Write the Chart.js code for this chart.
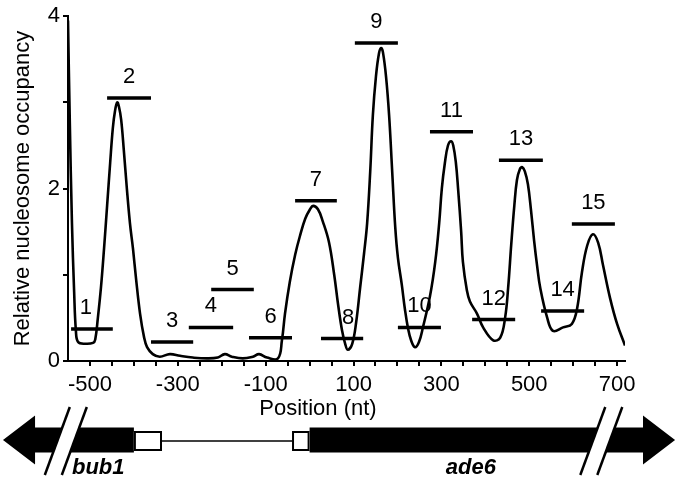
<!DOCTYPE html>
<html>
<head>
<meta charset="utf-8">
<script src="https://cdn.jsdelivr.net/npm/chart.js@4.4.1/dist/chart.umd.min.js"></script>
<style>
  html, body { margin: 0; padding: 0; background: #fff; }
  #wrap { width: 677px; height: 478px; }
</style>
</head>
<body>
<div id="wrap"><canvas id="c" width="677" height="478"></canvas></div>
<script>
// ---- Data ----
const positionNt = [-550, -546, -541, -536, -532, -527, -511, -493, -488, -482, -475, -468, -461, -454, -448, -443, -438, -434, -429, -423, -416, -409, -402, -395, -386, -377, -370, -357, -341, -318, -295, -266, -234, -209, -193, -177, -152, -129, -115, -97, -72, -63, -56, -45, -33, -22, -10, 1, 8, 19, 30, 44, 56, 65, 74, 81, 87, 97, 106, 115, 124, 131, 138, 144, 151, 158, 163, 167, 174, 181, 188, 195, 201, 210, 217, 224, 231, 240, 249, 258, 274, 286, 295, 301, 308, 315, 322, 327, 333, 338, 345, 349, 358, 365, 381, 395, 418, 434, 445, 452, 459, 466, 472, 479, 484, 490, 497, 504, 511, 518, 525, 541, 554, 577, 597, 609, 620, 632, 645, 657, 668, 684, 700, 718];
const occupancy = [3.95, 2.8, 1.6, 0.8, 0.35, 0.22, 0.2, 0.21, 0.25, 0.5, 0.85, 1.3, 1.8, 2.3, 2.7, 2.9, 3.0, 2.95, 2.8, 2.45, 2.0, 1.6, 1.3, 0.95, 0.55, 0.28, 0.16, 0.08, 0.05, 0.08, 0.06, 0.04, 0.03, 0.04, 0.08, 0.05, 0.03, 0.05, 0.08, 0.04, 0.03, 0.24, 0.55, 0.92, 1.23, 1.45, 1.65, 1.76, 1.8, 1.76, 1.62, 1.38, 1.0, 0.65, 0.35, 0.2, 0.13, 0.2, 0.45, 0.85, 1.25, 1.6, 2.2, 2.85, 3.3, 3.57, 3.63, 3.58, 3.3, 2.85, 2.2, 1.55, 1.2, 0.88, 0.6, 0.38, 0.24, 0.16, 0.22, 0.39, 0.75, 1.15, 1.6, 2.0, 2.3, 2.5, 2.55, 2.5, 2.3, 2.0, 1.5, 1.15, 0.82, 0.69, 0.55, 0.39, 0.24, 0.27, 0.5, 0.85, 1.35, 1.8, 2.1, 2.23, 2.25, 2.2, 2.05, 1.75, 1.4, 1.1, 0.85, 0.5, 0.35, 0.39, 0.43, 0.61, 1.03, 1.34, 1.47, 1.37, 1.11, 0.73, 0.43, 0.18];

const nucleosomeIds   = ['1','2','3','4','5','6','7','8','9','10','11','12','13','14','15'];
const nucleosomeStart = [-543, -461, -361, -275, -224, -138, -33, 26, 103, 201, 274, 370, 431, 527, 597];
const nucleosomeEnd   = [-448, -361, -265, -174, -127, -40, 62, 122, 201, 299, 372, 468, 531, 625, 695];
const nucleosomeLevel = [0.37, 3.05, 0.22, 0.39, 0.83, 0.27, 1.86, 0.26, 3.69, 0.39, 2.66, 0.48, 2.33, 0.58, 1.59];

const xTickLabels = [-500, -300, -100, 100, 300, 500, 700];
const yTickLabels = [0, 2, 4];

// gene schematic landmarks (nt)
const bub1Landmarks = { tip: -698, headBase: -625, orfEnd: -400, utrEnd: -336 };
const ade6Landmarks = { utrStart: -40, orfStart: 0, headBase: 759, tip: 832 };
const breakCentres = [-555, 664];

// ---- Build datasets ----
const curveData = positionNt.map((v, i) => ({ x: v, y: occupancy[i] }));
const nucData = [];
nucleosomeIds.forEach((id, i) => {
  nucData.push({ x: nucleosomeStart[i], y: nucleosomeLevel[i] });
  nucData.push({ x: nucleosomeEnd[i], y: nucleosomeLevel[i] });
  nucData.push({ x: nucleosomeEnd[i], y: null });
});

const FONT = "'Liberation Sans', Arial, Helvetica, sans-serif";
Chart.defaults.font.family = FONT;
Chart.defaults.color = '#000';

// small horizontal nudges of a few number labels (pixels), as in the figure
const labelNudge = { '1': -6, '8': 6 };

const overlay = {
  id: 'overlay',
  afterDatasetsDraw(chart) {
    const { ctx, scales: { x, y } } = chart;
    ctx.save();
    ctx.font = '22px ' + FONT;
    ctx.fillStyle = '#000';
    ctx.textAlign = 'center';
    ctx.textBaseline = 'middle';
    nucleosomeIds.forEach((id, i) => {
      const cx = x.getPixelForValue((nucleosomeStart[i] + nucleosomeEnd[i]) / 2) + (labelNudge[id] || 0);
      const cy = y.getPixelForValue(nucleosomeLevel[i]) - 21;
      ctx.fillText(id, cx, cy);
    });
    ctx.restore();
  },
  afterDraw(chart) {
    const { ctx, scales: { x } } = chart;
    const px = v => x.getPixelForValue(v);
    ctx.save();
    // x axis title
    ctx.font = '22px ' + FONT;
    ctx.fillStyle = '#000';
    ctx.textAlign = 'center';
    ctx.textBaseline = 'middle';
    ctx.fillText('Position (nt)', px(19), 409);

    const cy = 440, bh = 12.5, hh = 24.5;
    ctx.fillStyle = '#000';
    // bub1 arrow (leftward)
    ctx.beginPath();
    ctx.moveTo(px(bub1Landmarks.tip), cy);
    ctx.lineTo(px(bub1Landmarks.headBase), cy - hh);
    ctx.lineTo(px(bub1Landmarks.headBase), cy - bh);
    ctx.lineTo(px(bub1Landmarks.orfEnd), cy - bh);
    ctx.lineTo(px(bub1Landmarks.orfEnd), cy + bh);
    ctx.lineTo(px(bub1Landmarks.headBase), cy + bh);
    ctx.lineTo(px(bub1Landmarks.headBase), cy + hh);
    ctx.closePath();
    ctx.fill();
    // ade6 arrow (rightward)
    ctx.beginPath();
    ctx.moveTo(px(ade6Landmarks.tip), cy);
    ctx.lineTo(px(ade6Landmarks.headBase), cy - hh);
    ctx.lineTo(px(ade6Landmarks.headBase), cy - bh);
    ctx.lineTo(px(ade6Landmarks.orfStart), cy - bh);
    ctx.lineTo(px(ade6Landmarks.orfStart), cy + bh);
    ctx.lineTo(px(ade6Landmarks.headBase), cy + bh);
    ctx.lineTo(px(ade6Landmarks.headBase), cy + hh);
    ctx.closePath();
    ctx.fill();
    // intergenic line
    ctx.strokeStyle = '#000';
    ctx.lineWidth = 1.5;
    ctx.beginPath();
    ctx.moveTo(px(bub1Landmarks.utrEnd), cy + 1);
    ctx.lineTo(px(ade6Landmarks.utrStart), cy + 1);
    ctx.stroke();
    // UTR boxes
    ctx.lineWidth = 2;
    ctx.fillStyle = '#fff';
    [[bub1Landmarks.orfEnd, bub1Landmarks.utrEnd], [ade6Landmarks.utrStart, ade6Landmarks.orfStart]].forEach(([a, b]) => {
      const x0 = px(a), x1 = px(b);
      ctx.fillRect(x0, cy - 8, x1 - x0, 18);
      ctx.strokeRect(x0 + 1, cy - 8, x1 - x0 - 2, 18);
    });
    // break marks
    breakCentres.forEach(b => {
      const c = px(b);
      const top = 407, bot = 475, slant = 12.5, gap = 8.5;
      ctx.fillStyle = '#fff';
      ctx.beginPath();
      ctx.moveTo(c + slant - gap, top);
      ctx.lineTo(c + slant + gap, top);
      ctx.lineTo(c - slant + gap, bot);
      ctx.lineTo(c - slant - gap, bot);
      ctx.closePath();
      ctx.fill();
      ctx.strokeStyle = '#000';
      ctx.lineWidth = 2.5;
      [-gap, gap].forEach(g => {
        ctx.beginPath();
        ctx.moveTo(c + slant + g, top);
        ctx.lineTo(c - slant + g, bot);
        ctx.stroke();
      });
    });
    // gene names
    ctx.fillStyle = '#000';
    ctx.font = 'italic bold 22px ' + FONT;
    ctx.textBaseline = 'alphabetic';
    ctx.textAlign = 'left';
    ctx.fillText('bub1', px(-541), 474);
    ctx.textAlign = 'center';
    ctx.fillText('ade6', px(367), 474);
    ctx.restore();
  }
};

new Chart(document.getElementById('c'), {
  type: 'line',
  data: {
    datasets: [
      {
        data: curveData,
        borderColor: '#000',
        borderWidth: 2.6,
        pointRadius: 0,
        tension: 0.4,
        fill: false
      },
      {
        data: nucData,
        borderColor: '#000',
        borderWidth: 3.5,
        pointRadius: 0,
        spanGaps: false,
        borderCapStyle: 'butt',
        tension: 0
      }
    ]
  },
  options: {
    responsive: false,
    animation: false,
    devicePixelRatio: 1,
    layout: { padding: { left: 0, right: 52, top: 9, bottom: 0 } },
    plugins: { legend: { display: false }, tooltip: { enabled: false } },
    scales: {
      x: {
        type: 'linear',
        min: -550,
        max: 718,
        afterBuildTicks(scale) {
          const t = [];
          for (let v = -500; v <= 700; v += 50) t.push({ value: v });
          scale.ticks = t;
        },
        afterFit(scale) { scale.height = 117; },
        ticks: {
          autoSkip: false,
          maxRotation: 0,
          padding: 6,
          font: { size: 22 },
          color: '#000',
          callback: v => xTickLabels.includes(v) ? String(v) : ''
        },
        grid: { display: true, drawOnChartArea: false, drawTicks: true, tickLength: 5, color: '#000', lineWidth: 2 },
        border: { display: true, color: '#000', width: 2 }
      },
      y: {
        type: 'linear',
        min: 0,
        max: 4,
        afterBuildTicks(scale) {
          scale.ticks = [0, 1, 2, 3, 4].map(v => ({ value: v }));
        },
        afterFit(scale) { scale.width = 68; },
        ticks: {
          autoSkip: false,
          padding: 3,
          font: { size: 22 },
          color: '#000',
          callback: v => yTickLabels.includes(v) ? String(v) : ''
        },
        title: {
          display: true,
          text: 'Relative nucleosome occupancy',
          font: { size: 22 },
          color: '#000',
          padding: { top: 10, bottom: 0 }
        },
        grid: { display: true, drawOnChartArea: false, drawTicks: true, tickLength: 5, color: '#000', lineWidth: 2 },
        border: { display: true, color: '#000', width: 2 }
      }
    }
  },
  plugins: [overlay]
});
</script>
</body>
</html>
